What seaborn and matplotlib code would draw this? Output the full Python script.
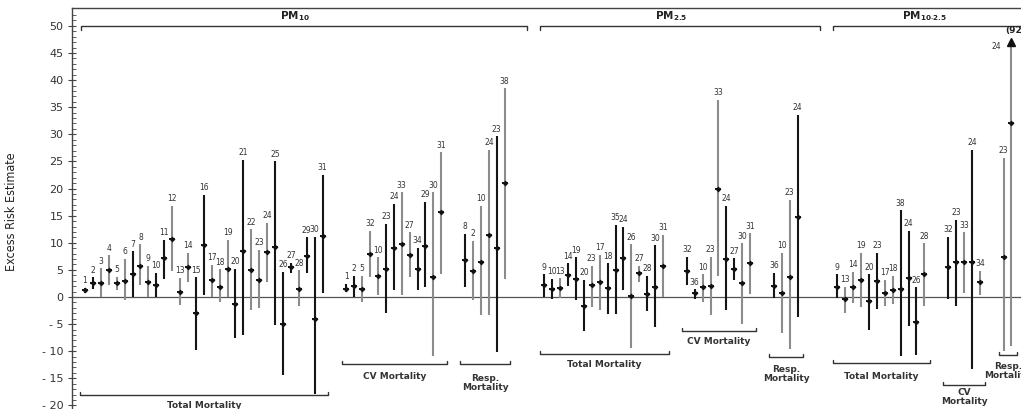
import numpy as np
import pandas as pd
import matplotlib
matplotlib.use("Agg")
import matplotlib.pyplot as plt
import seaborn as sns

sns.set_theme(style="white")
plt.rcParams['font.family'] = ['DejaVu Sans']
plt.rcParams['mathtext.fontset'] = 'dejavusans'

# ---- PM10 ----
pm10_tot_ids = [1, 2, 3, 4, 5, 6, 7, 8, 9, 10, 11, 12, 13, 14, 15, 16, 17, 18, 19, 20,
                21, 22, 23, 24, 25, 26, 27, 28, 29, 30, 31]
pm10_tot_est = [1.2, 2.6, 2.5, 5.0, 2.5, 2.9, 4.2, 5.8, 2.7, 2.2, 7.1, 10.7, 1.0, 5.5, -3.0, 9.5,
                3.1, 1.9, 5.2, -1.3, 8.5, 5.0, 3.1, 8.3, 9.3, -5.0, 5.6, 1.5, 7.6, -4.1, 11.3]
pm10_tot_lo = [0.7, 1.4, 0.0, 2.3, 1.3, -0.5, 0.0, 2.2, 0.0, 0.0, 3.3, 4.8, -1.5, 2.7, -9.8, 0.4,
               0.0, -0.9, 0.0, -7.6, -7.0, -2.4, -2.1, 2.8, -5.2, -14.4, 4.5, -1.7, 4.4, -17.9, 0.7]
pm10_tot_hi = [1.7, 3.6, 5.3, 7.7, 3.7, 7.0, 8.4, 9.7, 5.7, 4.4, 10.6, 16.8, 3.5, 8.1, 3.6, 18.8,
               5.9, 5.1, 10.5, 5.2, 25.3, 12.5, 8.7, 13.7, 25.0, 4.7, 6.3, 4.9, 11.0, 11.1, 22.5]
pm10_tot_gray = [0, 0, 1, 1, 1, 1, 0, 1, 1, 0, 0, 1, 1, 1, 0, 0, 1, 1, 1, 0, 0, 1, 1, 1, 0, 0, 0, 1, 0, 0, 0]

pm10_cv_ids = [1, 2, 5, 32, 10, 23, 24, 33, 27, 34, 29, 30, 31]
pm10_cv_est = [1.5, 2.0, 1.5, 7.9, 3.9, 5.1, 9.0, 9.8, 7.75, 5.1, 9.4, 3.75, 15.6]
pm10_cv_lo = [1.0, 0.0, -0.9, 3.6, 0.4, -3.0, 1.3, 0.4, 3.6, 1.3, 1.9, -10.9, 4.2]
pm10_cv_hi = [2.4, 3.9, 3.9, 12.2, 7.3, 13.5, 17.2, 19.3, 11.9, 9.0, 17.6, 19.3, 26.7]
pm10_cv_gray = [0, 0, 1, 1, 1, 0, 0, 1, 1, 0, 0, 1, 1]

pm10_resp_ids = [8, 2, 10, 24, 23, 38]
pm10_resp_est = [6.8, 4.85, 6.5, 11.4, 9.0, 21.1]
pm10_resp_lo = [1.9, -0.55, -3.3, -3.3, -10.1, 3.4]
pm10_resp_hi = [11.6, 10.3, 16.8, 27.1, 29.6, 38.5]
pm10_resp_gray = [0, 1, 1, 1, 0, 1]

# ---- PM2.5 ----
pm25_tot_ids = [9, 10, 13, 14, 19, 20, 23, 17, 18, 35, 24, 26, 27, 28, 30, 31]
pm25_tot_est = [2.2, 1.4, 1.6, 4.1, 3.3, -1.7, 2.15, 2.7, 1.6, 5.0, 7.1, 0.1, 4.4, 0.5, 1.9, 5.7]
pm25_tot_lo = [0.0, -0.4, -0.2, 2.0, -0.55, -6.3, -1.8, -2.4, -3.1, -3.1, 1.3, -9.4, 2.8, -2.6, -5.5, 0.0]
pm25_tot_hi = [4.2, 3.3, 3.45, 6.2, 7.3, 3.1, 5.8, 7.75, 6.2, 13.3, 12.9, 9.7, 5.8, 3.9, 9.5, 11.4]
pm25_tot_gray = [0, 0, 1, 0, 0, 0, 1, 1, 0, 0, 0, 1, 1, 0, 0, 1]

pm25_cv_ids = [32, 36, 10, 23, 33, 24, 27, 30, 31]
pm25_cv_est = [4.85, 0.7, 1.8, 2.1, 19.9, 6.95, 5.2, 2.5, 6.3]
pm25_cv_lo = [2.2, -0.4, -0.9, -3.3, 3.8, -2.4, 3.1, -5.0, 0.55]
pm25_cv_hi = [7.4, 1.4, 4.2, 7.4, 36.3, 16.8, 7.1, 9.9, 11.75]
pm25_cv_gray = [0, 0, 1, 1, 1, 0, 0, 1, 1]

pm25_resp_ids = [36, 10, 23, 24]
pm25_resp_est = [2.1, 0.7, 3.75, 14.8]
pm25_resp_lo = [-0.2, -6.7, -9.6, -3.6]
pm25_resp_hi = [4.5, 8.2, 17.9, 33.6]
pm25_resp_gray = [0, 1, 1, 0]

# ---- PM10-2.5 ----
pmc_tot_ids = [9, 13, 14, 19, 20, 23, 17, 18, 38, 24, 26, 28]
pmc_tot_est = [1.8, -0.3, 1.8, 3.1, -0.7, 3.0, 0.7, 1.3, 1.4, 3.45, -4.55, 4.2]
pmc_tot_lo = [-0.2, -2.9, -1.05, -1.9, -6.1, -2.3, -1.7, -1.3, -10.9, -5.35, -10.7, -1.7]
pmc_tot_hi = [4.2, 1.9, 4.7, 8.2, 4.2, 8.1, 3.1, 3.9, 16.0, 12.2, 1.8, 9.9]
pmc_tot_gray = [0, 1, 1, 1, 0, 0, 1, 1, 0, 0, 0, 1]

pmc_cv_ids = [32, 23, 33, 24, 34]
pmc_cv_est = [5.5, 6.4, 6.4, 6.4, 2.8]
pmc_cv_lo = [-0.4, -1.7, 0.8, -13.3, 0.4]
pmc_cv_hi = [11.1, 14.2, 11.9, 27.2, 4.8]
pmc_cv_gray = [0, 0, 1, 0, 1]

pmc_resp_ids = [23, 24]
pmc_resp_est = [7.3, 32.0]
pmc_resp_lo = [-9.9, -9.1]
pmc_resp_hi = [25.6, 92]
pmc_resp_gray = [1, 1]

pollutants = ["PM10", "PM2.5", "PM10-2.5"]
pollutant_labels = [r"PM$_{\mathbf{10}}$", r"PM$_{\mathbf{2.5}}$", r"PM$_{\mathbf{10\text{-}2.5}}$"]

groups = [
    # pollutant, outcome label, start slot, data
    ("PM10", "Total Mortality", 0, pm10_tot_ids, pm10_tot_est, pm10_tot_lo, pm10_tot_hi, pm10_tot_gray),
    ("PM10", "CV Mortality", 33, pm10_cv_ids, pm10_cv_est, pm10_cv_lo, pm10_cv_hi, pm10_cv_gray),
    ("PM10", "Resp.\nMortality", 48, pm10_resp_ids, pm10_resp_est, pm10_resp_lo, pm10_resp_hi, pm10_resp_gray),
    ("PM2.5", "Total Mortality", 58, pm25_tot_ids, pm25_tot_est, pm25_tot_lo, pm25_tot_hi, pm25_tot_gray),
    ("PM2.5", "CV Mortality", 76, pm25_cv_ids, pm25_cv_est, pm25_cv_lo, pm25_cv_hi, pm25_cv_gray),
    ("PM2.5", "Resp.\nMortality", 87, pm25_resp_ids, pm25_resp_est, pm25_resp_lo, pm25_resp_hi, pm25_resp_gray),
    ("PM10-2.5", "Total Mortality", 95, pmc_tot_ids, pmc_tot_est, pmc_tot_lo, pmc_tot_hi, pmc_tot_gray),
    ("PM10-2.5", "CV\nMortality", 109, pmc_cv_ids, pmc_cv_est, pmc_cv_lo, pmc_cv_hi, pmc_cv_gray),
    ("PM10-2.5", "Resp.\nMortality", 116, pmc_resp_ids, pmc_resp_est, pmc_resp_lo, pmc_resp_hi, pmc_resp_gray),
]
# bracket level / label level for each outcome group (data units)
bracket_y = [-18.1, -12.4, -12.4, -10.5, -6.3, -11.1, -12.2, -16.2, -10.7]
bracket_label_y = [-20.1, -14.6, -15.8, -12.5, -8.3, -14.2, -14.6, -18.5, -13.7]

rows = []
for pol, outc, start, ids, est, lo, hi, gray in groups:
    for i in range(len(ids)):
        rows.append(dict(pollutant=pol, outcome=outc, slot=start + i, study=ids[i],
                         est=est[i], lo=lo[i], hi=hi[i], shade="gray" if gray[i] else "black"))
df = pd.DataFrame(rows)

YTOP, YBOT = 53.3, -20.66
CAP = 47.0

fig = plt.figure(figsize=(10.21, 4.09), dpi=100)
ax = fig.add_axes([72 / 1021, 0, 1 - 72 / 1021, 401 / 409])

ax.axhline(0, color="#555555", lw=0.9, zorder=1)

colors = {"black": "#151515", "gray": "#8c8c8c"}
for shade, sub in df.groupby("shade"):
    ax.vlines(sub["slot"], sub["lo"], sub["hi"].clip(upper=CAP), color=colors[shade], lw=1.5, zorder=2)

sns.scatterplot(data=df, x="slot", y="est", marker="_", s=24, color="#111111",
                linewidth=1.4, ax=ax, zorder=3, legend=False)
sns.scatterplot(data=df, x="slot", y="est", marker="D", s=9, color="#111111",
                linewidth=0, ax=ax, zorder=4, legend=False)

# study labels
for _, r in df.iterrows():
    if r["hi"] > CAP:
        ax.plot(r["slot"], CAP, marker="^", ms=6, color="#111111", zorder=4, clip_on=False)
        ax.text(r["slot"] - 1.3, CAP - 1.6, str(r["study"]), ha="right", va="bottom",
                fontsize=5.5, color="#333333")
        ax.text(r["slot"] + 0.5, CAP + 1.3, "(%d)" % r["hi"], ha="center", va="bottom",
                fontsize=6.5, color="#222222", fontweight="bold", clip_on=False)
    else:
        ax.text(r["slot"], r["hi"] + 0.5, str(r["study"]), ha="center", va="bottom",
                fontsize=5.5, color="#333333")

# pollutant brackets on top
for pol, lab in zip(pollutants, pollutant_labels):
    sub = df[df["pollutant"] == pol]
    x0, x1 = sub["slot"].min() - 0.5, sub["slot"].max() + 2.85
    ax.plot([x0, x0, x1, x1], [49.3, 50, 50, 49.3], color="#333333", lw=1.0, clip_on=True)
    xm = (sub["slot"].min() + sub["slot"].max()) / 2
    ax.text(xm, 50.6, lab, ha="center", va="bottom", fontsize=7.5, fontweight="bold", color="#222222")

# outcome brackets below
for (pol, outc, start, ids, *_), by, ly in zip(groups, bracket_y, bracket_label_y):
    x0, x1 = start - 0.6, start + len(ids) - 1 + 0.7
    ax.plot([x0, x0, x1, x1], [by + 0.6, by, by, by + 0.6], color="#333333", lw=1.0, clip_on=False)
    ax.text((x0 + x1) / 2, ly, outc, ha="center", va="center", fontsize=6.5, fontweight="bold",
            color="#333333", linespacing=1.0, clip_on=False)

ax.set_xlim(-1.64, 118.2)
ax.set_ylim(YBOT, YTOP)
ticks = np.arange(-20, 51, 5)
ax.set_yticks(ticks)
ax.set_yticklabels([("- %d" % -t) if t < 0 else str(t) for t in ticks], fontsize=8, color="#333333")
ax.set_yticks(np.arange(-20, 53, 1), minor=True)
ax.tick_params(axis="y", which="major", direction="inout", length=6, width=0.8, color="#444444", left=True, pad=3)
ax.tick_params(axis="y", which="minor", direction="in", length=3, width=0.6, color="#444444", left=True)
ax.set_xticks([])
ax.set_xlabel("")
ax.set_ylabel("")
for side in ["right", "bottom"]:
    ax.spines[side].set_visible(False)
for side in ["left", "top"]:
    ax.spines[side].set_color("#444444")
    ax.spines[side].set_linewidth(1.0)

fig.text(12 / 1021, 1 - 212 / 409, "Excess Risk Estimate", rotation=90, ha="center", va="center",
         fontsize=9, color="#222222", fontstretch="condensed",
         family=["Liberation Sans Narrow", "DejaVu Sans"])

fig.savefig("out.png", dpi=100)
